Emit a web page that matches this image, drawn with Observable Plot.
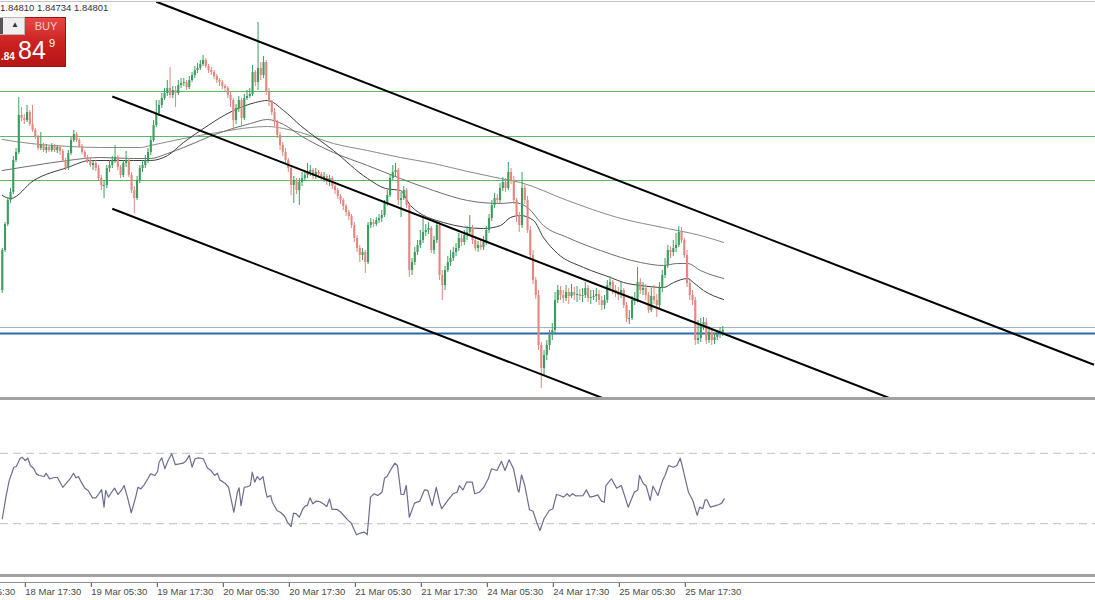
<!DOCTYPE html>
<html><head><meta charset="utf-8">
<script src="https://cdn.jsdelivr.net/npm/d3@7"></script>
<script src="https://cdn.jsdelivr.net/npm/@observablehq/plot@0.6"></script>
<style>
body{margin:0;background:#fff;}
#wrap{position:relative;width:1095px;height:600px;overflow:hidden;background:#fff;font-family:"Liberation Sans",Arial,sans-serif;}
#main{position:absolute;left:0;top:0;}
#rsi{position:absolute;left:0;top:400px;}
#axis{position:absolute;left:0;top:582px;border-top:1px solid #8c8c8c;width:1095px;}
.sep{position:absolute;left:0;width:1095px;background:#a2a2a2;}
#quote{position:absolute;left:0;top:2px;font-size:9.5px;color:#333;white-space:nowrap;}
#buy{position:absolute;left:0;top:17px;width:65px;height:48px;background:linear-gradient(#e54846,#cc2222 50%,#b51616);border:1px solid #a01212;border-left:none;}
#lot{position:absolute;left:0;top:17px;width:24px;height:16px;background:#efefef;border:1px solid #b8b8b8;border-left:none;}
#lotl{position:absolute;left:0;top:0;width:3px;height:16px;background:#555;}
#arrow{position:absolute;left:11px;top:2px;font-size:8px;color:#333;}
#buylbl{position:absolute;left:26px;width:40px;top:20px;text-align:center;font-size:11px;color:#f7cccc;}
#small{position:absolute;left:1px;top:51px;font-size:10px;font-weight:bold;color:#fff;}
#big{position:absolute;left:18px;top:36px;font-size:25px;color:#fff;}
#sup{position:absolute;left:49px;top:37px;font-size:11px;color:#fff;}
</style></head><body>
<div id="wrap">
 <div id="main"></div>
 <div id="rsi"></div>
 <div id="axis"></div>
 <div class="sep" style="top:1px;height:1px;background:#c4c4c4"></div>
 <div class="sep" style="top:397px;height:3px"></div>
 <div class="sep" style="top:574px;height:3px"></div>
 <div id="quote">1.84810 1.84734 1.84801</div>
 <div id="buy"></div>
 <div id="lot"><div id="lotl"></div><span id="arrow">▲</span></div>
 <div id="buylbl">BUY</div>
 <div id="small">.84</div>
 <div id="big">84</div>
 <div id="sup">9</div>
</div>
<script>
// ---- M30 candles (bar index 0..262) ----
const firstOpen = 1.8510;
const close = [1.8550,1.8576,1.8600,1.8608,1.8640,1.8648,1.8685,1.8682,1.8680,1.8688,
1.8676,1.8670,1.8663,1.8652,1.8655,1.8650,1.8653,1.8650,1.8654,1.8650,
1.8653,1.8649,1.8640,1.8632,1.8647,1.8660,1.8666,1.8660,1.8654,1.8648,
1.8643,1.8640,1.8635,1.8637,1.8632,1.8622,1.8615,1.8615,1.8632,1.8635,
1.8640,1.8643,1.8633,1.8625,1.8637,1.8640,1.8625,1.8610,1.8602,1.8620,
1.8632,1.8635,1.8640,1.8648,1.8660,1.8675,1.8687,1.8695,1.8702,1.8707,
1.8712,1.8705,1.8710,1.8707,1.8715,1.8717,1.8718,1.8713,1.8720,1.8725,
1.8730,1.8732,1.8736,1.8740,1.8734,1.8730,1.8728,1.8724,1.8720,1.8718,
1.8714,1.8712,1.8705,1.8700,1.8680,1.8692,1.8700,1.8682,1.8702,1.8704,
1.8706,1.8728,1.8718,1.8732,1.8725,1.8738,1.8708,1.8698,1.8688,1.8678,
1.8665,1.8655,1.8648,1.8640,1.8632,1.8615,1.8620,1.8610,1.8618,1.8622,
1.8625,1.8628,1.8630,1.8624,1.8628,1.8626,1.8622,1.8624,1.8618,1.8622,
1.8614,1.8610,1.8604,1.8600,1.8594,1.8588,1.8584,1.8575,1.8562,1.8552,
1.8545,1.8548,1.8538,1.8575,1.8578,1.8576,1.8580,1.8582,1.8585,1.8597,
1.8605,1.8622,1.8628,1.8630,1.8600,1.8602,1.8610,1.8595,1.8530,1.8538,
1.8548,1.8555,1.8560,1.8568,1.8570,1.8572,1.8550,1.8560,1.8575,1.8525,
1.8515,1.8530,1.8538,1.8542,1.8548,1.8552,1.8562,1.8558,1.8565,1.8568,
1.8572,1.8560,1.8552,1.8555,1.8553,1.8558,1.8570,1.8582,1.8595,1.8602,
1.8600,1.8612,1.8618,1.8612,1.8628,1.8620,1.8600,1.8585,1.8575,1.8612,
1.8600,1.8570,1.8545,1.8520,1.8505,1.8455,1.8432,1.8445,1.8455,1.8465,
1.8470,1.8500,1.8510,1.8505,1.8502,1.8508,1.8504,1.8508,1.8505,1.8506,
1.8504,1.8505,1.8512,1.8502,1.8503,1.8504,1.8506,1.8500,1.8495,1.8500,
1.8515,1.8518,1.8510,1.8508,1.8505,1.8510,1.8495,1.8482,1.8482,1.8500,
1.8500,1.8518,1.8510,1.8512,1.8505,1.8490,1.8504,1.8500,1.8495,1.8512,
1.8525,1.8535,1.8550,1.8548,1.8552,1.8555,1.8568,1.8560,1.8545,1.8517,
1.8505,1.8500,1.8460,1.8462,1.8475,1.8478,1.8460,1.8468,1.8460,1.8463,
1.8466,1.8468,1.8470];
const high = [1.8552,1.8578,1.8603,1.8612,1.8644,1.8652,1.8703,1.8693,1.8686,1.8695,
1.8690,1.8695,1.8672,1.8665,1.8668,1.8657,1.8656,1.8655,1.8657,1.8656,
1.8655,1.8655,1.8651,1.8642,1.8650,1.8663,1.8670,1.8668,1.8662,1.8656,
1.8650,1.8645,1.8642,1.8640,1.8640,1.8635,1.8625,1.8620,1.8635,1.8640,
1.8644,1.8655,1.8645,1.8635,1.8640,1.8649,1.8642,1.8628,1.8614,1.8624,
1.8635,1.8640,1.8645,1.8652,1.8664,1.8680,1.8700,1.8700,1.8707,1.8712,
1.8720,1.8733,1.8714,1.8714,1.8720,1.8722,1.8722,1.8720,1.8724,1.8728,
1.8734,1.8737,1.8740,1.8745,1.8742,1.8736,1.8733,1.8730,1.8726,1.8722,
1.8720,1.8716,1.8714,1.8708,1.8702,1.8696,1.8704,1.8702,1.8706,1.8710,
1.8712,1.8735,1.8730,1.8778,1.8738,1.8744,1.8740,1.8712,1.8700,1.8692,
1.8680,1.8668,1.8658,1.8652,1.8642,1.8635,1.8624,1.8622,1.8622,1.8628,
1.8630,1.8637,1.8635,1.8632,1.8632,1.8630,1.8628,1.8628,1.8626,1.8625,
1.8624,1.8616,1.8612,1.8606,1.8602,1.8596,1.8590,1.8586,1.8578,1.8565,
1.8555,1.8552,1.8550,1.8578,1.8582,1.8581,1.8583,1.8586,1.8590,1.8600,
1.8610,1.8626,1.8635,1.8637,1.8632,1.8608,1.8614,1.8612,1.8597,1.8542,
1.8553,1.8560,1.8570,1.8585,1.8576,1.8578,1.8574,1.8564,1.8580,1.8578,
1.8530,1.8534,1.8544,1.8550,1.8553,1.8557,1.8567,1.8566,1.8570,1.8574,
1.8585,1.8575,1.8564,1.8559,1.8560,1.8564,1.8574,1.8586,1.8600,1.8607,
1.8606,1.8617,1.8623,1.8622,1.8638,1.8632,1.8624,1.8602,1.8588,1.8628,
1.8615,1.8604,1.8574,1.8550,1.8523,1.8510,1.8458,1.8450,1.8460,1.8470,
1.8477,1.8508,1.8515,1.8514,1.8510,1.8515,1.8512,1.8516,1.8513,1.8514,
1.8511,1.8512,1.8518,1.8515,1.8510,1.8510,1.8512,1.8510,1.8504,1.8505,
1.8520,1.8524,1.8520,1.8515,1.8513,1.8518,1.8512,1.8498,1.8490,1.8504,
1.8508,1.8533,1.8522,1.8518,1.8516,1.8508,1.8512,1.8515,1.8506,1.8518,
1.8530,1.8542,1.8555,1.8554,1.8560,1.8567,1.8574,1.8573,1.8562,1.8550,
1.8520,1.8510,1.8503,1.8480,1.8482,1.8483,1.8482,1.8474,1.8470,1.8467,
1.8470,1.8473,1.8474];
const low = [1.8507,1.8548,1.8574,1.8597,1.8606,1.8638,1.8646,1.8679,1.8676,1.8678,
1.8674,1.8668,1.8661,1.8650,1.8650,1.8648,1.8647,1.8648,1.8648,1.8648,
1.8647,1.8645,1.8638,1.8630,1.8630,1.8645,1.8658,1.8658,1.8652,1.8646,
1.8641,1.8637,1.8633,1.8630,1.8629,1.8620,1.8610,1.8602,1.8612,1.8628,
1.8632,1.8637,1.8630,1.8622,1.8623,1.8633,1.8623,1.8607,1.8587,1.8600,
1.8617,1.8628,1.8632,1.8637,1.8645,1.8658,1.8673,1.8684,1.8692,1.8700,
1.8704,1.8702,1.8702,1.8693,1.8705,1.8712,1.8714,1.8710,1.8711,1.8718,
1.8722,1.8727,1.8730,1.8734,1.8732,1.8727,1.8725,1.8721,1.8717,1.8714,
1.8711,1.8708,1.8702,1.8693,1.8670,1.8676,1.8688,1.8673,1.8680,1.8700,
1.8702,1.8704,1.8714,1.8710,1.8720,1.8722,1.8705,1.8694,1.8685,1.8674,
1.8662,1.8650,1.8644,1.8636,1.8628,1.8605,1.8597,1.8606,1.8595,1.8614,
1.8619,1.8622,1.8624,1.8621,1.8621,1.8622,1.8619,1.8618,1.8615,1.8614,
1.8611,1.8606,1.8601,1.8596,1.8590,1.8584,1.8580,1.8572,1.8558,1.8548,
1.8538,1.8540,1.8527,1.8536,1.8572,1.8573,1.8574,1.8577,1.8578,1.8583,
1.8594,1.8603,1.8620,1.8624,1.8595,1.8583,1.8600,1.8592,1.8523,1.8525,
1.8535,1.8545,1.8552,1.8557,1.8564,1.8566,1.8547,1.8546,1.8557,1.8520,
1.8500,1.8510,1.8528,1.8534,1.8539,1.8544,1.8549,1.8554,1.8555,1.8560,
1.8564,1.8556,1.8549,1.8548,1.8550,1.8550,1.8555,1.8567,1.8579,1.8592,
1.8596,1.8597,1.8609,1.8608,1.8610,1.8616,1.8596,1.8578,1.8568,1.8572,
1.8596,1.8567,1.8542,1.8516,1.8501,1.8450,1.8412,1.8425,1.8440,1.8450,
1.8460,1.8467,1.8497,1.8500,1.8497,1.8499,1.8496,1.8502,1.8500,1.8498,
1.8500,1.8498,1.8502,1.8498,1.8496,1.8500,1.8498,1.8495,1.8490,1.8491,
1.8497,1.8510,1.8506,1.8503,1.8500,1.8502,1.8492,1.8478,1.8476,1.8480,
1.8495,1.8498,1.8506,1.8505,1.8500,1.8487,1.8488,1.8496,1.8483,1.8492,
1.8508,1.8522,1.8532,1.8542,1.8544,1.8548,1.8553,1.8557,1.8542,1.8513,
1.8500,1.8495,1.8455,1.8456,1.8458,1.8470,1.8456,1.8457,1.8455,1.8456,
1.8460,1.8462,1.8464];

// ---- moving averages (read at bar positions) ----
const slowBar = [0,10.3,24.8,35.7,50.3,53.9,65.9,78.3,90.3,96.4,102.3,108.4,120.4,132.8,144.8,156.8,169.2,181.2,188.4,205.5,223.7,241.9,253.9,262.3];
const slowVal = [1.8661,1.8657,1.8654,1.8653,1.8653,1.8655,1.8662,1.8668,1.8673,1.8674,1.8672,1.8668,1.8657,1.8650,1.8643,1.8637,1.8629,1.8622,1.8618,1.8600,1.8583,1.8572,1.8565,1.8558];
const medBar = [0,11.4,23.7,35.7,47.7,53.9,60.1,65.9,78.3,90.3,96.4,102.3,108.4,120.4,132.8,144.8,156.8,169.2,181.2,185.9,191.0,196.8,205.5,217.5,232.1,240.4,245.5,249.2,253.9,262.3];
const medVal = [1.8630,1.8635,1.8640,1.8643,1.8642,1.8642,1.8647,1.8653,1.8667,1.8677,1.8681,1.8676,1.8665,1.8648,1.8635,1.8622,1.8610,1.8600,1.8597,1.8598,1.8593,1.8575,1.8563,1.8550,1.8538,1.8535,1.8537,1.8537,1.8530,1.8522];
const fastBar = [0,3.0,11.4,23.7,32.1,47.7,53.9,60.1,65.9,72.1,84.1,92.1,96.4,102.3,108.4,120.4,132.8,139.4,144.8,148.4,160.4,175.0,181.2,184.8,188.4,193.2,196.8,201.9,211.4,221.2,225.9,232.1,240.4,244.1,249.2,251.3,255.0,262.3];
const fastVal = [1.8605,1.8602,1.8620,1.8633,1.8640,1.8640,1.8640,1.8645,1.8658,1.8670,1.8690,1.8698,1.8700,1.8690,1.8675,1.8650,1.8622,1.8612,1.8610,1.8595,1.8578,1.8572,1.8575,1.8583,1.8585,1.8580,1.8563,1.8547,1.8533,1.8523,1.8518,1.8515,1.8513,1.8518,1.8522,1.8518,1.8510,1.8501];

// ---- horizontal levels ----
const greenLevels = [1.8709, 1.8664, 1.8620];
const blueThinLevel = [1.8473];
const blueThickLevel = [1.8467];

// ---- channel trendlines (bar, price) ----
const trendBar1 = [56, 40, 40];
const trendP1 = [1.87987, 1.87040, 1.85917];
const trendBar2 = [397, 323, 219];
const trendP2 = [1.84357, 1.84020, 1.84017];

// ---- RSI ----
const rsiBar = [0,1.3,2.5,4.2,5.1,6.4,7.2,8.3,9.3,10.2,11.5,12.4,13.4,15.3,15.9,17.2,18.5,20,22,23.6,24.9,25.9,26.8,27.7,28.7,30,31.2,32.8,34,35.1,36.1,37,37.6,38.6,39.5,40.8,42.1,43.3,44.3,45.5,46.9,48.5,49.3,50.4,51.6,52.9,53.9,55.5,56.5,57,58,59.1,60.3,61.6,62.9,64.4,65.7,66.7,68,69,70.1,71.4,73.1,74.6,75.9,77.2,78.2,79.1,81,82.3,84.2,85.5,86.1,86.8,88,89.3,90.2,90.9,91.8,92.7,93.7,94.8,95.7,96.3,97.6,98.2,99.9,101.4,102.7,103.7,105,105.9,106.9,108,109.3,110.3,110.9,111.9,112.9,114.1,115.4,116.7,118,119,119.9,121.8,123.1,125.6,126.9,128.8,130.1,131.7,132.7,133.9,135.2,136.5,138.1,139,139.9,141.2,142.8,143.7,145,146,146.9,148,149.9,151.8,153.5,154.7,156.3,157.8,159.1,159.8,162,163.9,165.4,166.2,167.5,168.8,170.9,171.8,173.5,175.1,176.7,177.9,179.9,181.5,182.8,184.3,185.9,187.5,187.9,188.8,190,191.7,193,194.3,195.5,197,198.9,200.2,201.5,202.8,204.1,205.4,206.3,207.3,208.6,211.2,212.4,213.7,215,216.5,217.9,218.9,219.5,221.5,223.4,225.1,227.6,229.8,231.1,231.7,233.1,234.1,235.6,236.6,238.4,240.1,241,242.3,244,245.3,246.5,247.2,248.5,249.5,251.1,252.7,253.6,254.7,255.6,256.2,257.5,259.4,260.7,261.6,262.5];
const rsiVal = [32.8,45.1,54.5,62.1,62.5,66.9,67.8,65.9,67.2,63.1,61.2,58.3,57.4,56.8,58.7,55.5,56.1,56.4,50.7,53.6,56.1,58.7,56.1,56.8,53.6,50.2,48.9,44.7,44.7,47.0,49.4,39.4,48.9,45.1,47.3,50.2,46.6,48.9,51.7,45.1,36.2,45.1,50.7,49.8,52.1,55.5,58.3,57.4,59.8,64.9,67.4,61.2,65.9,69.7,63.6,64.0,64.4,65.5,68.8,62.1,66.9,67.4,66.9,61.7,60.2,57.4,58.7,54.9,53.0,50.7,36.5,47.9,50.4,40.3,50.7,51.1,51.7,59.3,53.6,56.8,54.9,56.8,48.9,45.1,46.0,42.2,37.5,36.2,34.1,30.9,28.4,36.0,35.6,33.7,38.5,40.3,40.3,44.7,41.3,42.8,42.6,41.3,39.8,44.1,38.1,38.1,36.5,32.2,30.3,23.7,24.6,25.2,23.7,45.1,47.0,46.0,47.9,55.9,56.8,60.6,64.4,63.1,46.6,46.6,51.7,33.7,41.7,42.8,49.2,48.9,40.3,50.7,41.7,38.5,43.2,47.0,47.9,51.7,49.2,53.6,53.6,47.0,47.9,50.7,55.5,61.2,60.2,65.5,60.2,66.3,61.2,48.9,47.9,57.8,51.7,37.9,37.1,30.9,26.1,32.8,37.5,38.5,46.6,46.0,45.1,47.0,45.5,47.0,45.8,46.0,49.2,45.1,45.5,46.4,42.8,42.2,51.7,55.5,50.2,51.7,39.4,47.9,49.2,57.4,52.7,51.7,43.2,51.3,46.0,54.5,57.4,63.1,62.1,63.1,67.2,63.1,54.5,47.9,43.2,34.7,39.4,38.5,43.6,43.6,39.4,40.3,40.9,41.7,44.1];
const rsiLevels = [70, 30];

// ---- time axis ----
const tickBars = [-16, 8, 32, 56, 80, 104, 128, 152, 176, 200, 224, 248];
const tickLabels = ["18 Mar 05:30","18 Mar 17:30","19 Mar 05:30","19 Mar 17:30","20 Mar 05:30","20 Mar 17:30","21 Mar 05:30","21 Mar 17:30","24 Mar 05:30","24 Mar 17:30","25 Mar 05:30","25 Mar 17:30"];

// ---------------------------------------------------------------
const UP = "#3a9f5e", DOWN = "#e5867f";
const bars = close.map((c, i) => ({i, o: i ? close[i - 1] : firstOpen, c, h: high[i], l: low[i]}));
bars.forEach(d => d.col = d.c >= d.o ? UP : DOWN);
const xDomain = [-0.655, 397.53];

const mainChart = Plot.plot({
  width: 1095, height: 397, marginTop: 0, marginBottom: 0, marginLeft: 0, marginRight: 0,
  x: {domain: xDomain, axis: null},
  y: {domain: [1.8403, 1.8800], axis: null},
  color: {type: "identity"},
  style: {background: "transparent", overflow: "hidden"},
  marks: [
    Plot.ruleY(greenLevels, {stroke: "#5cb865", strokeWidth: 1.1}),
    Plot.ruleY(blueThinLevel, {stroke: "#9fb6cf", strokeWidth: 1}),
    Plot.ruleY(blueThickLevel, {stroke: "#2d68a6", strokeWidth: 2}),
    Plot.line(slowVal, {x: slowBar, y: slowVal, stroke: "#8a8a8a", strokeWidth: 1, curve: "monotone-x"}),
    Plot.line(medVal, {x: medBar, y: medVal, stroke: "#6e6e6e", strokeWidth: 1, curve: "monotone-x"}),
    Plot.line(fastVal, {x: fastBar, y: fastVal, stroke: "#3e3e3e", strokeWidth: 1, curve: "monotone-x"}),
    Plot.ruleX(bars, {x: "i", y1: "l", y2: "h", stroke: "col", strokeWidth: 1}),
    Plot.ruleX(bars, {x: "i", y1: "o", y2: "c", stroke: "col", strokeWidth: 2.1}),
    Plot.ruleY(bars.filter(d => d.o === d.c), {y: "c", x1: d => d.i - 0.4, x2: d => d.i + 0.4, stroke: "col"}),
    Plot.link(trendBar1, {x1: trendBar1, y1: trendP1, x2: trendBar2, y2: trendP2, stroke: "#000", strokeWidth: 2, clip: true})
  ]
});
document.getElementById("main").appendChild(mainChart);

const rsiChart = Plot.plot({
  width: 1095, height: 176, marginTop: 0, marginBottom: 0, marginLeft: 0, marginRight: 0,
  x: {domain: xDomain, axis: null},
  y: {domain: [0, 100], axis: null},
  style: {background: "transparent", overflow: "hidden"},
  marks: [
    Plot.ruleY(rsiLevels, {stroke: "#bdbdcb", strokeWidth: 1, strokeDasharray: "8,5"}),
    Plot.line(rsiVal, {x: rsiBar, y: rsiVal, stroke: "#6c6c90", strokeWidth: 1.2})
  ]
});
document.getElementById("rsi").appendChild(rsiChart);

const labelOf = new Map(tickBars.map((b, i) => [b, tickLabels[i]]));
const axisChart = Plot.plot({
  width: 1095, height: 18, marginTop: 0, marginBottom: 18, marginLeft: 0, marginRight: 0,
  x: {domain: xDomain},
  style: {background: "transparent", overflow: "hidden", fontFamily: "Liberation Sans, Arial, sans-serif", fontSize: "9.5px"},
  marks: [
    Plot.axisX(tickBars, {tickFormat: d => labelOf.get(d), textAnchor: "start", tickSize: 4, tickPadding: 1, dx: 1, color: "#4a4a4a"})
  ]
});
document.getElementById("axis").appendChild(axisChart);
</script>
</body></html>
